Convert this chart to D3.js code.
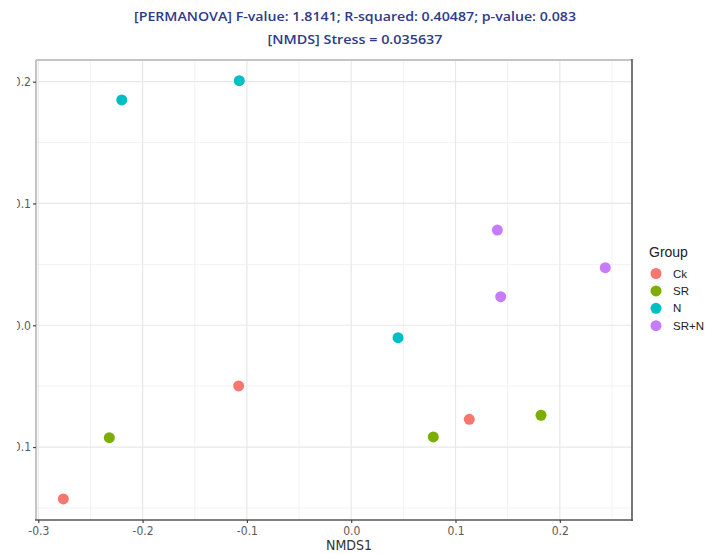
<!DOCTYPE html>
<html><head><meta charset="utf-8">
<script src="https://cdn.jsdelivr.net/npm/d3@7"></script>
<style>
html,body{margin:0;padding:0;background:#fff;}
svg{display:block;}
</style></head>
<body>
<svg id="chart" width="716" height="554"></svg>
<script>
// ---- data ----
const groups = ["Ck", "SR", "N", "SR+N"];
const groupColors = ["#F8766D", "#7CAE00", "#00BFC4", "#C77CFF"];
const sampleGroup = ["Ck","Ck","Ck","SR","SR","SR","N","N","N","SR+N","SR+N","SR+N"];
const nmds1 = [-0.2760, -0.1079, 0.1132, -0.2319, 0.0787, 0.1820, -0.2200, -0.1073, 0.0449, 0.1401, 0.1433, 0.2436];
const nmds2 = [-0.1426, -0.0498, -0.0772, -0.0923, -0.0917, -0.0739, 0.1850, 0.2008, -0.0102, 0.0782, 0.0235, 0.0473];
const xTicks = [-0.3, -0.2, -0.1, 0.0, 0.1, 0.2];
const yTicks = [-0.1, 0.0, 0.1, 0.2];
const xMinor = [-0.25, -0.15, -0.05, 0.05, 0.15, 0.25];
const yMinor = [-0.15, -0.05, 0.05, 0.15];
const title1 = "[PERMANOVA] F-value: 1.8141; R-squared: 0.40487; p-value: 0.083";
const title2 = "[NMDS] Stress = 0.035637";
const xTitle = "NMDS1";
const legendTitle = "Group";

// ---- layout ----
const svg = d3.select("#chart");
const L = 36, R = 632, T = 60, B = 520;
const x = d3.scaleLinear().domain([-0.3022, 0.2692]).range([L, R]);
const y = d3.scaleLinear().domain([-0.1599, 0.2178]).range([B, T]);
const color = d3.scaleOrdinal().domain(groups).range(groupColors);
const tickFont = "'Liberation Sans Narrow','DejaVu Sans Condensed','Liberation Sans',sans-serif";

// clip for the y tick labels (the reference image is cropped on the left)
svg.append("defs").append("clipPath").attr("id", "yclip")
  .append("rect").attr("x", 17 - L).attr("y", 0).attr("width", 100).attr("height", 554);

// panel
svg.append("rect").attr("x", L).attr("y", T).attr("width", R - L).attr("height", B - T).attr("fill", "#fff");

// grid
const g = svg.append("g");
g.selectAll(".xm").data(xMinor.filter(d => x(d) > L && x(d) < R)).join("line")
  .attr("x1", d => x(d)).attr("x2", d => x(d)).attr("y1", T).attr("y2", B)
  .attr("stroke", "#f2f2f2").attr("stroke-width", 1);
g.selectAll(".ym").data(yMinor).join("line")
  .attr("y1", d => y(d)).attr("y2", d => y(d)).attr("x1", L).attr("x2", R)
  .attr("stroke", "#f2f2f2").attr("stroke-width", 1);
g.selectAll(".xM").data(xTicks).join("line")
  .attr("x1", d => x(d)).attr("x2", d => x(d)).attr("y1", T).attr("y2", B)
  .attr("stroke", "#e8e8e8").attr("stroke-width", 1.2);
g.selectAll(".yM").data(yTicks).join("line")
  .attr("y1", d => y(d)).attr("y2", d => y(d)).attr("x1", L).attr("x2", R)
  .attr("stroke", "#e8e8e8").attr("stroke-width", 1.2);

// border: light top/left, dark right/bottom
svg.append("line").attr("x1", L).attr("x2", R).attr("y1", T).attr("y2", T).attr("stroke", "#c4c4c4").attr("stroke-width", 2);
svg.append("line").attr("x1", L).attr("x2", L).attr("y1", T).attr("y2", B).attr("stroke", "#c4c4c4").attr("stroke-width", 2);
svg.append("line").attr("x1", R).attr("x2", R).attr("y1", T - 1).attr("y2", B + 1).attr("stroke", "#555").attr("stroke-width", 1.6);
svg.append("line").attr("x1", L - 1).attr("x2", R + 1).attr("y1", B).attr("y2", B).attr("stroke", "#555").attr("stroke-width", 1.6);

// axes
const xAxis = svg.append("g").attr("transform", `translate(0,${B})`)
  .call(d3.axisBottom(x).tickValues(xTicks).tickSize(3).tickPadding(3).tickFormat(d3.format(".1f")));
const yAxis = svg.append("g").attr("transform", `translate(${L},0)`).attr("clip-path", "url(#yclip)")
  .call(d3.axisLeft(y).tickValues(yTicks).tickSize(3).tickPadding(2).tickFormat(d3.format(".1f")));
[xAxis, yAxis].forEach(a => {
  a.select(".domain").remove();
  a.selectAll(".tick line").attr("stroke", "#444").attr("stroke-width", 1.2);
  a.selectAll(".tick text").attr("fill", "#5a5a5a").attr("font-family", tickFont).attr("font-size", 12);
});
xAxis.selectAll(".tick text").text(d => d3.format(".1f")(d).replace("−", "-"));
yAxis.selectAll(".tick text").text(d => d3.format(".1f")(d).replace("−", "-"));

// points
svg.append("g").selectAll("circle").data(nmds1.map((v, i) => ({x: v, y: nmds2[i], g: sampleGroup[i]})))
  .join("circle")
  .attr("cx", d => x(d.x)).attr("cy", d => y(d.y)).attr("r", 5.5)
  .attr("fill", d => color(d.g));

// x title
svg.append("text").attr("x", 349).attr("y", 550).attr("text-anchor", "middle")
  .attr("font-family", tickFont).attr("font-size", 14).attr("fill", "#333").text(xTitle);

// titles
svg.append("text").attr("x", 355).attr("y", 21).attr("text-anchor", "middle")
  .attr("font-family", "'Open Sans','Noto Sans',sans-serif").attr("font-weight", 600).attr("font-size", 13)
  .attr("fill", "#2E3A8C").attr("textLength", 442).attr("lengthAdjust", "spacingAndGlyphs").text(title1);
svg.append("text").attr("x", 355).attr("y", 44).attr("text-anchor", "middle")
  .attr("font-family", "'Open Sans','Noto Sans',sans-serif").attr("font-weight", 600).attr("font-size", 13)
  .attr("fill", "#2E3A8C").attr("textLength", 175).attr("lengthAdjust", "spacingAndGlyphs").text(title2);

// legend
const leg = svg.append("g");
leg.append("text").attr("x", 649).attr("y", 257).attr("font-family", "'Liberation Sans',sans-serif")
  .attr("font-size", 14).attr("fill", "#222").text(legendTitle);
const items = leg.selectAll("g.item").data(groups).join("g").attr("class", "item")
  .attr("transform", (d, i) => `translate(0,${273.5 + i * 17.4})`);
items.append("circle").attr("cx", 656).attr("cy", 0).attr("r", 5.5).attr("fill", d => color(d));
items.append("text").attr("x", 673).attr("y", 4).attr("font-family", "'Liberation Sans',sans-serif")
  .attr("font-size", 11.5).attr("fill", "#222").text(d => d);
</script>
</body></html>
